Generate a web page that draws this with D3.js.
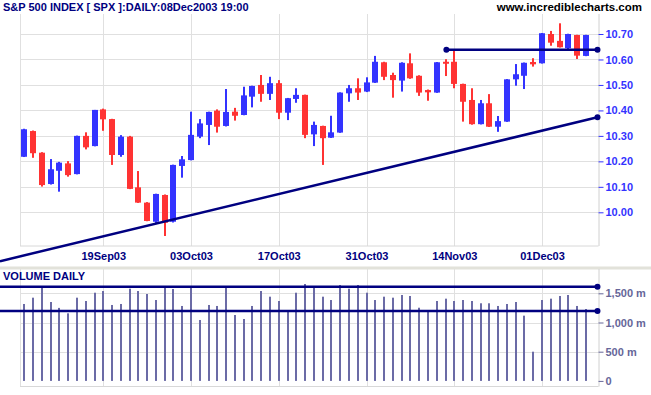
<!DOCTYPE html>
<html>
<head>
<meta charset="utf-8">
<script src="https://cdn.jsdelivr.net/npm/d3@7"></script>
<style>
	body { margin: 0; background: #fff; }
	svg text { font-family: Arial, "Liberation Sans", sans-serif; font-weight: bold; }
</style>
</head>
<body>
<div id="chart"></div>
<script>
// trading days shown on the chart
const dates = [
	"2003-09-08", "2003-09-09", "2003-09-10", "2003-09-11", "2003-09-12", "2003-09-15", "2003-09-16", "2003-09-17", "2003-09-18", "2003-09-19",
	"2003-09-22", "2003-09-23", "2003-09-24", "2003-09-25", "2003-09-26", "2003-09-29", "2003-09-30", "2003-10-01", "2003-10-02", "2003-10-03",
	"2003-10-06", "2003-10-07", "2003-10-08", "2003-10-09", "2003-10-10", "2003-10-13", "2003-10-14", "2003-10-15", "2003-10-16", "2003-10-17",
	"2003-10-20", "2003-10-21", "2003-10-22", "2003-10-23", "2003-10-24", "2003-10-27", "2003-10-28", "2003-10-29", "2003-10-30", "2003-10-31",
	"2003-11-03", "2003-11-04", "2003-11-05", "2003-11-06", "2003-11-07", "2003-11-10", "2003-11-11", "2003-11-12", "2003-11-13", "2003-11-14",
	"2003-11-17", "2003-11-18", "2003-11-19", "2003-11-20", "2003-11-21", "2003-11-24", "2003-11-25", "2003-11-26", "2003-11-28", "2003-12-01",
	"2003-12-02", "2003-12-03", "2003-12-04", "2003-12-05", "2003-12-08"
]

const opens = [10.218, 10.319, 10.234, 10.111, 10.163, 10.192, 10.150, 10.300, 10.260, 10.404,
	10.366, 10.225, 10.297, 10.098, 10.038, 9.963, 10.068, 9.963, 10.182, 10.205,
	10.297, 10.343, 10.399, 10.339, 10.395, 10.382, 10.454, 10.500, 10.465, 10.507,
	10.391, 10.445, 10.461, 10.306, 10.339, 10.293, 10.313, 10.467, 10.487, 10.474,
	10.509, 10.589, 10.539, 10.517, 10.585, 10.536, 10.480, 10.470, 10.591, 10.591,
	10.504, 10.441, 10.346, 10.428, 10.336, 10.356, 10.522, 10.536, 10.590, 10.585,
	10.700, 10.673, 10.644, 10.696, 10.614]

const highs = [10.328, 10.321, 10.236, 10.209, 10.198, 10.201, 10.301, 10.314, 10.402, 10.407,
	10.367, 10.303, 10.300, 10.162, 10.040, 10.073, 10.070, 10.187, 10.221, 10.395,
	10.366, 10.395, 10.404, 10.484, 10.410, 10.493, 10.497, 10.539, 10.532, 10.519,
	10.449, 10.487, 10.462, 10.356, 10.340, 10.379, 10.471, 10.500, 10.526, 10.530,
	10.614, 10.591, 10.548, 10.589, 10.624, 10.538, 10.482, 10.590, 10.601, 10.640,
	10.505, 10.487, 10.441, 10.464, 10.378, 10.523, 10.582, 10.588, 10.605, 10.704,
	10.712, 10.742, 10.701, 10.697, 10.697]

const lows = [10.217, 10.214, 10.101, 10.109, 10.081, 10.140, 10.149, 10.247, 10.259, 10.320,
	10.186, 10.218, 10.091, 10.037, 9.965, 9.954, 9.907, 9.960, 10.136, 10.204,
	10.291, 10.264, 10.313, 10.337, 10.360, 10.381, 10.412, 10.434, 10.441, 10.366,
	10.362, 10.430, 10.291, 10.260, 10.186, 10.292, 10.312, 10.434, 10.441, 10.472,
	10.508, 10.519, 10.450, 10.474, 10.524, 10.457, 10.438, 10.469, 10.535, 10.487,
	10.356, 10.344, 10.345, 10.335, 10.316, 10.355, 10.497, 10.484, 10.572, 10.584,
	10.654, 10.647, 10.634, 10.602, 10.613]

const closes = [10.326, 10.232, 10.107, 10.169, 10.195, 10.146, 10.300, 10.255, 10.402, 10.365,
	10.225, 10.297, 10.092, 10.038, 9.966, 10.072, 9.959, 10.186, 10.208, 10.304,
	10.349, 10.394, 10.336, 10.394, 10.379, 10.459, 10.496, 10.465, 10.507, 10.391,
	10.448, 10.461, 10.304, 10.343, 10.291, 10.314, 10.470, 10.487, 10.470, 10.510,
	10.591, 10.532, 10.519, 10.587, 10.526, 10.470, 10.471, 10.589, 10.585, 10.504,
	10.434, 10.346, 10.428, 10.336, 10.358, 10.522, 10.542, 10.587, 10.581, 10.703,
	10.666, 10.648, 10.700, 10.615, 10.696]

// daily volume, millions
const volumes = [1317, 1425, 1603, 1351, 1250, 1157, 1425, 1368, 1510, 1539,
	1300, 1317, 1579, 1539, 1488, 1385, 1613, 1574, 1283, 1613,
	1043, 1300, 1283, 1596, 1128, 1060, 1283, 1539, 1442, 1368,
	1197, 1510, 1659, 1613, 1442, 1385, 1642, 1579, 1642, 1510,
	1385, 1442, 1425, 1471, 1454, 1253, 1197, 1368, 1408, 1368,
	1385, 1368, 1329, 1329, 1283, 1317, 1351, 1117, 500, 1385,
	1408, 1454, 1471, 1283, 1231]

// axis ticks
const tickDates = ["2003-09-19", "2003-10-03", "2003-10-17", "2003-10-31", "2003-11-14", "2003-12-01"]
const tickLabels = ["19Sep03", "03Oct03", "17Oct03", "31Oct03", "14Nov03", "01Dec03"]
const priceTicks = [10.0, 10.1, 10.2, 10.3, 10.4, 10.5, 10.6, 10.7]
const volumeTicks = [0, 500, 1000, 1500]

// drawn lines (day index, value)
const trendDays = [-2.77, 65.32]
const trendValues = [9.808, 10.373]
const resistDays = [48.1, 65.32]
const resistValues = [10.638, 10.638]
const volLineDays = [-2.77, 65.32]
const volHighValues = [1613, 1613]
const volLowValues = [1197, 1197]

function graphCreation() {
	const width = 651,
		height = 395;
	const left = 20,
		right = 598.5;
	const price = { top: 14, bottom: 246 },
		vol = { top: 269, bottom: 386.5 };

	const blue = "#3333ff",
		red = "#ff3333",
		navy = "#000080",
		grid = "#e0e0e0",
		volColor = "#6b6ba6";

	const svg = d3.select("#chart")
		.append("svg")
		.attr("width", width)
		.attr("height", height);

	// scales
	const x = d3.scalePoint()
		.domain(dates)
		.range([24.3, 585.9]);
	const xi = d3.scaleLinear()
		.domain([0, dates.length - 1])
		.range(x.range());
	const y = d3.scaleLinear()
		.domain([10.0, 10.7])
		.range([212.3, 34]);
	const v = d3.scaleLinear()
		.domain([0, 1500])
		.range([380.9, 293.3]);

	// grid - price panel
	svg.append("g")
		.selectAll("line")
		.data(priceTicks)
		.join("line")
		.attr("x1", left).attr("x2", right)
		.attr("y1", d => Math.round(y(d)) + 0.5).attr("y2", d => Math.round(y(d)) + 0.5)
		.attr("stroke", grid);
	svg.append("g")
		.selectAll("line")
		.data(volumeTicks.slice(1))
		.join("line")
		.attr("x1", left).attr("x2", right)
		.attr("y1", d => Math.round(v(d)) + 0.5).attr("y2", d => Math.round(v(d)) + 0.5)
		.attr("stroke", grid);

	// vertical grid in both panels
	[price, vol].forEach(p => {
		svg.append("g")
			.selectAll("line")
			.data(tickDates)
			.join("line")
			.attr("x1", d => Math.round(x(d)) + 0.5).attr("x2", d => Math.round(x(d)) + 0.5)
			.attr("y1", p.top).attr("y2", p.bottom)
			.attr("stroke", grid);
		svg.append("line")
			.attr("x1", left + 0.5).attr("x2", left + 0.5)
			.attr("y1", p.top).attr("y2", p.bottom)
			.attr("stroke", grid);
		svg.append("line")
			.attr("x1", left).attr("x2", right)
			.attr("y1", p.bottom).attr("y2", p.bottom)
			.attr("stroke", "#d8d8d8");
	})

	// band between the panels
	svg.append("rect")
		.attr("x", 0).attr("y", 266.5)
		.attr("width", width).attr("height", 3)
		.attr("fill", "#e2e2da");

	// right axes
	const priceAxis = svg.append("g")
		.attr("transform", `translate(${right},0)`)
		.call(d3.axisRight(y).tickValues(priceTicks).tickFormat(d3.format(".2f")).tickSize(5).tickPadding(2));
	priceAxis.select(".domain").attr("d", `M0.5,${price.top}V${price.bottom}`).attr("stroke", "#d0d0d0");
	priceAxis.selectAll(".tick line").attr("stroke", blue);
	priceAxis.selectAll("text").attr("fill", blue).style("font-size", "11px");

	const volAxis = svg.append("g")
		.attr("transform", `translate(${right},0)`)
		.call(d3.axisRight(v).tickValues(volumeTicks)
			.tickFormat(d => d === 0 ? "0" : d3.format(",")(d) + " m").tickSize(5).tickPadding(2));
	volAxis.select(".domain").attr("d", `M0.5,${vol.top}V${vol.bottom}`).attr("stroke", "#d0d0d0");
	volAxis.selectAll(".tick line").attr("stroke", "#666699");
	volAxis.selectAll("text").attr("fill", "#666699").style("font-size", "11px");

	// date labels
	const xAxis = svg.append("g")
		.attr("transform", `translate(0,${price.bottom})`)
		.call(d3.axisBottom(x).tickValues(tickDates)
			.tickFormat((d, i) => tickLabels[i]).tickSize(0).tickPadding(6));
	xAxis.select(".domain").remove();
	xAxis.selectAll("text").attr("fill", navy).style("font-size", "11px");

	// volume bars
	svg.append("g")
		.selectAll("rect")
		.data(volumes)
		.join("rect")
		.attr("x", (d, i) => Math.round(x(dates[i])) - 1)
		.attr("y", d => v(d))
		.attr("width", 2)
		.attr("height", d => v(0) - v(d))
		.attr("fill", volColor);

	// candles
	const candles = dates.map((d, i) => ({
		date: d,
		open: opens[i],
		high: highs[i],
		low: lows[i],
		close: closes[i]
	}))
	const colorOf = d => d.close >= d.open ? blue : red;

	svg.append("g")
		.selectAll("rect")
		.data(candles)
		.join("rect")
		.attr("x", d => Math.round(x(d.date)) - 1)
		.attr("y", d => y(d.high))
		.attr("width", 2)
		.attr("height", d => y(d.low) - y(d.high))
		.attr("fill", colorOf);
	svg.append("g")
		.selectAll("rect")
		.data(candles)
		.join("rect")
		.attr("x", d => Math.round(x(d.date)) - 3)
		.attr("y", d => y(Math.max(d.open, d.close)))
		.attr("width", 6)
		.attr("height", d => Math.max(2, Math.abs(y(d.open) - y(d.close))))
		.attr("fill", colorOf);

	// trend lines
	const drawLine = (days, values, scale, dots) => {
		const pts = days.map((d, i) => [xi(d), scale(values[i])]);
		svg.append("path")
			.attr("d", d3.line()(pts))
			.attr("stroke", navy)
			.attr("stroke-width", 2.5)
			.attr("fill", "none");
		svg.append("g")
			.selectAll("circle")
			.data(dots.map(k => pts[k]))
			.join("circle")
			.attr("cx", p => p[0])
			.attr("cy", p => p[1])
			.attr("r", 3)
			.attr("fill", navy);
	}
	drawLine(trendDays, trendValues, y, [1]);
	drawLine(resistDays, resistValues, y, [0, 1]);
	drawLine(volLineDays, volHighValues, v, [1]);
	drawLine(volLineDays, volLowValues, v, [1]);

	// titles
	svg.append("text")
		.attr("x", 3).attr("y", 11)
		.attr("fill", navy)
		.style("font-size", "11px")
		.text("S&P 500 INDEX [ SPX ]:DAILY:08Dec2003 19:00");
	svg.append("text")
		.attr("x", 642).attr("y", 11)
		.attr("text-anchor", "end")
		.attr("fill", "#000")
		.style("font-size", "11.5px")
		.text("www.incrediblecharts.com");
	svg.append("text")
		.attr("x", 3).attr("y", 280)
		.attr("fill", navy)
		.style("font-size", "11px")
		.text("VOLUME DAILY");
}

graphCreation();
</script>
</body>
</html>
